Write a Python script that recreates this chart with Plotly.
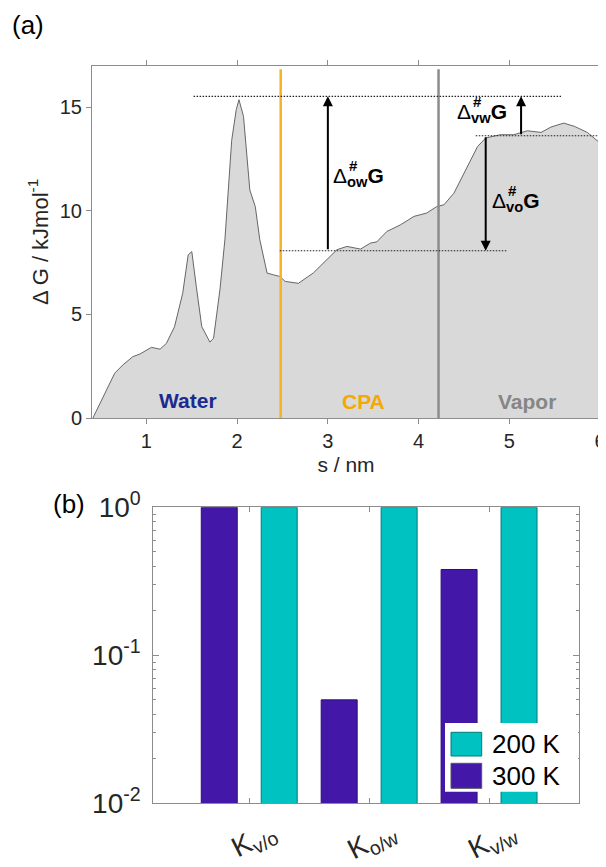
import plotly.graph_objects as go

# ---------------- data: panel (a) free-energy profile ----------------
s_nm = [0.41, 0.56, 0.65, 0.74, 0.85, 0.93, 1.055, 1.15, 1.22, 1.31, 1.40, 1.46, 1.50,
        1.55, 1.61, 1.70, 1.74, 1.81, 1.865, 1.94, 1.99, 2.02, 2.07, 2.14, 2.20, 2.25,
        2.33, 2.40, 2.47, 2.53, 2.675, 2.84, 2.99, 3.10, 3.21, 3.36, 3.47, 3.54, 3.65,
        3.80, 3.95, 4.09, 4.20, 4.28, 4.39, 4.54, 4.65, 4.74, 4.90, 5.05, 5.20, 5.35,
        5.46, 5.60, 5.72, 5.86, 6.0]
dG = [0.0, 1.35, 2.16, 2.56, 2.96, 3.09, 3.41, 3.32, 3.6, 4.41, 6.02, 7.87, 8.03,
      6.34, 4.41, 3.66, 3.85, 6.18, 8.6, 13.4, 14.88, 15.36, 14.56, 11.0, 10.2, 8.6,
      6.99, 6.91, 6.83, 6.59, 6.5, 7.0, 7.63, 8.12, 8.28, 8.15, 8.44, 8.5, 9.0,
      9.32, 9.73, 9.89, 10.2, 10.29, 10.85, 12.14, 13.1, 13.51, 13.67, 13.67, 13.86, 13.78,
      14.04, 14.23, 14.07, 13.78, 13.27]

boundary_s = [2.48, 4.22]              # Water|CPA, CPA|Vapor
boundary_colors = ["#F5B324", "#8C8C8C"]
region_names = ["Water", "CPA", "Vapor"]
region_s = [1.46, 3.39, 5.20]
region_G = [0.85, 0.8, 0.8]
region_colors = ["#1B2A8E", "#F5A800", "#868686"]

G_top = 15.52      # barrier top
G_cpa = 8.07       # CPA level
G_vap = 13.62      # vapor level
# dotted reference levels: (s_start, s_end, level)
levels = [(1.52, 5.57, G_top), (2.47, 4.98, G_cpa), (4.63, 6.0, G_vap)]
# arrows: (s, from, to)
arrows = [(3.0, G_cpa, G_top), (4.74, G_vap, G_cpa), (5.13, G_vap, G_top)]
# barrier labels: (subscript, s, G)
barrier_labels = [("ow", 3.04, 11.62), ("vw", 4.40, 14.71), ("vo", 4.79, 10.41)]

# ---------------- data: panel (b) ratios ----------------
categories = ["K<sub>v/o</sub>", "K<sub>o/w</sub>", "K<sub>v/w</sub>"]
cat_pos = [1, 2, 3]
K_300 = [1.0, 0.05, 0.38]
K_200 = [1.0, 1.0, 1.0]
PURPLE = "#4318A9"
TEAL = "#00C2C0"

FONT = "Arial, 'Liberation Sans', sans-serif"
AX = "#8C8C8C"
TXT = "#262626"

W, H = 606, 867
OFF = 8  # page body offset of the figure


def px(x):
    return (x - OFF) / W


def py(y):
    return 1 - (y - OFF) / H


fig = go.Figure()

fig.add_trace(go.Scatter(
    x=s_nm, y=dG, mode="lines", fill="tozeroy", fillcolor="#D9D9D9",
    line=dict(color="#666666", width=1), xaxis="x", yaxis="y", showlegend=False))

fig.add_trace(go.Bar(
    x=cat_pos, y=K_300, name="300 K", offset=-0.4, width=0.3,
    marker=dict(color=PURPLE, line=dict(color="#2A1070", width=1)),
    xaxis="x2", yaxis="y2", showlegend=False))
fig.add_trace(go.Bar(
    x=cat_pos, y=K_200, name="200 K", offset=0.1, width=0.3,
    marker=dict(color=TEAL, line=dict(color="#007A78", width=1)),
    xaxis="x2", yaxis="y2", showlegend=False))

shapes = []
for bs, bc in zip(boundary_s, boundary_colors):
    shapes.append(dict(type="line", xref="x", yref="y domain", x0=bs, x1=bs, y0=0, y1=0.99,
                       line=dict(color=bc, width=2.5)))
for x0, x1, lv in levels:
    shapes.append(dict(type="line", xref="x", yref="y", x0=x0, x1=x1, y0=lv, y1=lv,
                       line=dict(color="#222222", width=1.2, dash="1.5px,1.5px")))

annotations = []
for sx, g0, g1 in arrows:
    annotations.append(dict(x=sx, y=g1, ax=sx, ay=g0, xref="x", yref="y", axref="x", ayref="y",
                            text="", showarrow=True, arrowhead=2, arrowsize=1.0,
                            arrowwidth=2, arrowcolor="black", standoff=0, startstandoff=0))
for sub, sx, gy in barrier_labels:
    annotations.append(dict(x=sx, y=gy, xref="x", yref="y", xanchor="left", yanchor="middle",
                            text="Δ<sub><b>%s</b></sub><b>G</b>" % sub, showarrow=False,
                            font=dict(family=FONT, size=21, color="black")))
    annotations.append(dict(x=sx, y=gy, xref="x", yref="y", xanchor="left", yanchor="middle",
                            xshift=16, yshift=12, text="<b>#</b>", showarrow=False,
                            font=dict(family=FONT, size=15, color="black")))
for nm, sx, gy, col in zip(region_names, region_s, region_G, region_colors):
    annotations.append(dict(x=sx, y=gy, xref="x", yref="y", text="<b>%s</b>" % nm,
                            showarrow=False, font=dict(family=FONT, size=21, color=col)))

annotations.append(dict(x=px(28), y=py(25), xref="paper", yref="paper", text="(a)",
                        xanchor="center", yanchor="middle",
                        showarrow=False, font=dict(family=FONT, size=26, color="black")))
annotations.append(dict(x=px(69), y=py(504), xref="paper", yref="paper", text="(b)",
                        xanchor="center", yanchor="middle",
                        showarrow=False, font=dict(family=FONT, size=26, color="black")))

# custom legend for panel (b)
shapes.append(dict(type="rect", xref="paper", yref="paper", x0=px(445), x1=px(578),
                   y0=py(791.7), y1=py(723), fillcolor="white",
                   line=dict(color="white", width=0), layer="above"))
legend_items = [("200 K", TEAL, "#007A78", 732.3, 756.0), ("300 K", PURPLE, "#555555", 763.3, 788.3)]
for lab, col, lc, t, b in legend_items:
    shapes.append(dict(type="rect", xref="paper", yref="paper", x0=px(451), x1=px(481.7),
                       y0=py(b), y1=py(t), fillcolor=col,
                       line=dict(color=lc, width=1), layer="above"))
    annotations.append(dict(x=px(490), y=py((t + b) / 2), xref="paper", yref="paper",
                            xanchor="left", yanchor="middle", text=lab, showarrow=False,
                            font=dict(family=FONT, size=26, color="black")))

common = dict(showline=True, linecolor=AX, linewidth=1, tickcolor=AX, showgrid=False,
              zeroline=False, mirror="ticks", automargin=False)

fig.update_layout(
    width=W, height=H, margin=dict(l=0, r=0, t=0, b=0, autoexpand=False),
    paper_bgcolor="white", plot_bgcolor="white",
    font=dict(family=FONT, color=TXT),
    barmode="overlay",
    xaxis=dict(domain=[px(92), px(600)], anchor="y", range=[0.4, 6],
               tickvals=[1, 2, 3, 4, 5, 6], ticks="outside", ticklen=5,
               tickfont=dict(size=20, color=TXT),
               title=dict(text="s / nm", font=dict(size=21, color=TXT), standoff=6), **common),
    yaxis=dict(domain=[py(418), py(65.7)], anchor="x", range=[0, 17],
               tickvals=[0, 5, 10, 15], ticks="outside", ticklen=5,
               tickfont=dict(size=20, color=TXT),
               title=dict(text="Δ G / kJmol<sup>-1</sup>", font=dict(size=22, color=TXT), standoff=5),
               **common),
    xaxis2=dict(domain=[px(153.3), px(579)], anchor="y2", range=[0.2, 3.75],
                tickvals=cat_pos, ticktext=categories, tickangle=-27, ticks="inside", ticklen=5,
                tickfont=dict(size=28, color=TXT), ticklabelshift=22, ticklabelstandoff=1,
                **common),
    yaxis2=dict(domain=[py(803.3), py(507.3)], anchor="x2", type="log",
                range=[-2, 0], tickvals=[0.01, 0.1, 1],
                ticktext=["10<sup>-2</sup>", "10<sup>-1</sup>", "10<sup>0</sup>"],
                ticks="inside", ticklen=6, tickfont=dict(size=28, color=TXT),
                ticklabelstandoff=6,
                minor=dict(ticks="inside", ticklen=3, tickcolor=AX,
                           tickvals=[m * 10 ** e for e in (-2, -1) for m in range(2, 10)]),
                **common),
    shapes=shapes, annotations=annotations,
)

fig.write_html("out.html")
